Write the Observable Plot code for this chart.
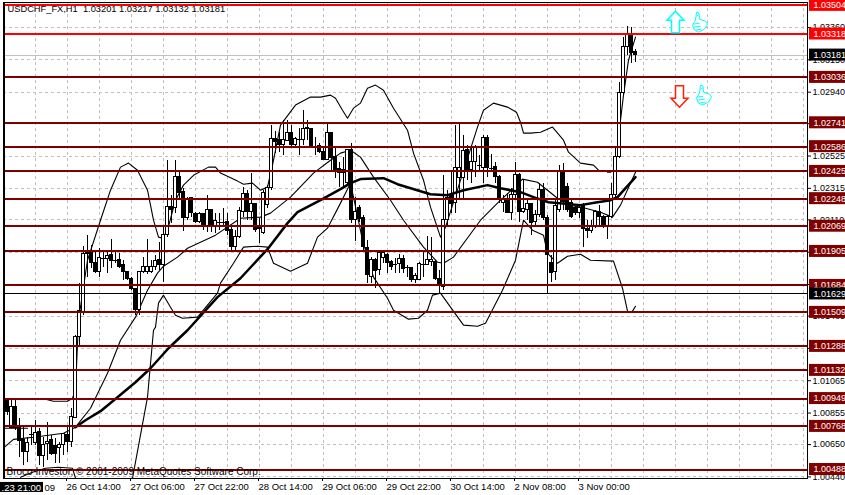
<!DOCTYPE html>
<html><head><meta charset="utf-8">
<style>html,body{margin:0;padding:0;background:#fff;overflow:hidden}</style>
<script src="https://cdn.jsdelivr.net/npm/d3@7"></script>
<script src="https://cdn.jsdelivr.net/npm/@observablehq/plot@0.6"></script>
</head><body><div id="chart"></div>
<script>
// Candles: bar 1 to bar 158, prices in points (1e-5)
const opens=[100938,100756,100893,100756,100678,100600,100717,100659,100730,100574,100652,100678,100639,100626,100646,100711,100665,100821,101348,101510,101900,101893,101828,101770,101861,101855,101880,101848,101848,101816,101770,101725,101660,101523,101770,101770,101770,101803,101848,101816,102011,102193,102186,102388,102290,102121,102251,102147,102095,102147,102063,102173,102063,102095,102095,102095,102043,101933,101998,102160,102277,102160,102212,102063,102024,102206,102316,102635,102628,102596,102622,102674,102596,102635,102628,102706,102700,102589,102589,102550,102498,102674,102518,102440,102414,102349,102563,102108,102186,102121,101926,101738,101848,101783,101861,101880,101835,101822,101822,101855,101803,101796,101718,101718,101822,101816,101835,101835,101725,101673,102108,102270,102219,102381,102381,102563,102433,102485,102466,102446,102641,102446,102453,102388,102219,102245,102154,102270,102400,102160,102173,102212,102095,102141,102303,102121,101828,101770,102173,102420,102323,102219,102186,102154,102206,102050,102037,102063,102160,102128,102063,102128,102270,102518,102934,103233,103317,103201];
const highs=[100951,100951,100951,100821,100763,100698,100763,100808,100756,100698,100795,100711,100691,100665,100724,100775,100886,101361,101699,101939,102011,101945,101900,101926,101900,101913,101985,101900,101893,101848,101770,101738,101666,101770,101868,101985,101848,101880,101965,102063,102498,102270,102498,102420,102316,102258,102258,102160,102160,102154,102270,102173,102154,102154,102186,102154,102076,102043,102193,102323,102303,102414,102219,102121,102303,102336,102726,102687,102680,102758,102758,102726,102648,102706,102823,102758,102706,102648,102609,102576,102739,102674,102576,102485,102518,102563,102609,102258,102206,102141,101978,101868,101861,101893,101913,101893,101848,101861,101887,101880,101816,101803,101764,101835,101900,102004,101998,101848,101783,102400,102303,102420,102726,102739,102661,102596,102576,102596,102531,102661,102661,102537,102485,102400,102270,102283,102316,102485,102414,102368,102238,102219,102173,102349,102349,102141,101880,102238,102466,102479,102349,102238,102199,102206,102219,102108,102108,102173,102206,102141,102141,102349,102583,103005,103298,103369,103363,103217];
const lows=[100841,100756,100743,100568,100516,100535,100646,100646,100516,100503,100548,100580,100529,100529,100580,100600,100633,100821,101283,101490,101738,101796,101764,101738,101803,101764,101796,101828,101796,101718,101718,101653,101490,101490,101764,101757,101764,101783,101783,101705,101998,102089,102154,102251,102037,102108,102128,102089,102089,102043,102030,102030,102024,102043,102063,102011,101913,101913,101991,102128,102108,102108,102030,101959,102017,102186,102303,102544,102550,102531,102622,102583,102576,102531,102596,102628,102589,102531,102544,102498,102498,102433,102381,102323,102316,102336,102089,101972,102095,101913,101699,101699,101666,101751,101828,101764,101783,101764,101764,101764,101738,101705,101699,101718,101738,101816,101809,101718,101634,101653,102076,102154,102154,102251,102251,102368,102349,102388,102433,102349,102388,102433,102349,102219,102160,102154,102108,102238,102095,102154,102108,102011,102063,102128,102108,101634,101705,101718,102160,102173,102160,102121,102141,102121,101933,101991,102024,102056,102063,102056,101985,102121,102258,102511,102921,103181,103129,103132];
const closes=[100860,100893,100756,100672,100600,100659,100717,100724,100574,100646,100665,100587,100587,100646,100717,100665,100828,101348,101517,101887,101887,101828,101770,101861,101861,101874,101842,101848,101803,101770,101725,101660,101523,101770,101803,101803,101803,101842,101816,102011,102193,102173,102388,102283,102121,102238,102154,102095,102147,102063,102173,102076,102102,102095,102095,102037,101933,101998,102167,102277,102160,102212,102043,102050,102283,102316,102635,102615,102596,102628,102674,102596,102635,102635,102700,102700,102589,102589,102550,102498,102674,102511,102433,102414,102433,102563,102108,102160,102115,101933,101751,101848,101777,101893,101893,101828,101803,101822,101855,101790,101803,101718,101744,101822,101822,101848,101848,101725,101686,102108,102251,102212,102446,102446,102557,102433,102485,102576,102466,102641,102446,102446,102388,102238,102238,102154,102270,102400,102160,102180,102212,102089,102141,102303,102121,101880,101764,102199,102420,102225,102173,102128,102154,102186,102050,102037,102063,102160,102128,102063,102128,102270,102518,102934,103233,103317,103194,103181];

// Thick moving average: bar position / points
const maBars=[18,20.5,24.25,28.5,33,36.75,41.25,46,53.5,59.25,66,71,73.5,79.25,84.25,86.75,89.25,95,98.5,106.75,111,115,121,124.25,129.25,132.5,136.25,144.25,148.5,151.75,153.5,158];
const maVals=[100763,100808,100867,100958,101055,101146,101276,101393,101608,101731,101920,102089,102160,102238,102310,102349,102375,102381,102342,102277,102270,102303,102336,102316,102290,102258,102225,102206,102225,102238,102258,102388];

// Bollinger middle
const midBars=[0.25,2.5,7.5,15,18,21.75,26,29.25,33,36,38.5,40,43.5,46,53,59.25,64.25,66.75,71.75,77.5,81.75,84.25,86.75,89.25,92.5,96.75,100,105,108.5,110,112.5,119.25,123.75,127.5,129.75,133.5,136,138.5,141.75,145.5,149.25,152.25,154.25,158];
const midVals=[100633,100684,100698,100724,100763,100886,101114,101328,101478,101653,101764,101809,101868,101926,102011,102121,102128,102154,102258,102414,102498,102544,102563,102518,102388,102238,102108,101933,101835,101828,101868,102108,102225,102316,102375,102355,102303,102251,102206,102186,102160,102128,102206,102420];

// Bollinger upper (NaN = gap in the drawn line)
const upBars=[0,6,6,10.5,12.5,16,17.25,18,18.75,21,24.25,26.75,29.25,31.25,33.5,36,37.5,38.75,39.75,41,43,45,47.5,51.25,53,54.25,58.5,60,62.25,64.25,66,67.25,69.25,73,76.75,79.25,81.75,83,84.75,86,87.5,89.25,91,93,95,97.5,101,102.5,105,106.75,109.25,110.5,118.5,120,122.5,126,128.25,129.25,130,131.75,134.25,137.25,140,141.25,144.25,147.5,148.75,150,151,151.75,152.5,153.5,154.25,155,156.25,158];
const upVals=[100756,100756,NaN,100945,100932,100932,100951,101003,101458,101848,102108,102303,102453,102479,102433,102303,102108,101998,101991,102043,102238,102336,102400,102453,102453,102414,102362,102342,102349,102303,102323,102466,102726,102856,102908,102908,102921,102901,102823,102771,102836,102869,102966,102986,102953,102836,102693,102544,102368,102193,101998,102063,102713,102823,102869,102843,102810,102745,102674,102674,102680,102713,102628,102550,102479,102466,102433,NaN,102420,102420,NaN,102563,102758,102921,103148,103298];

// Bollinger lower
const loBars=[4.25,7.25,10.5,13.75,17.25,18,18,32.25,36,37.5,38,38.75,40,41.75,43,44.75,48.5,53.5,54.25,57.5,60,63.5,66,67.5,71.75,76,78.5,81,84.25,86.75,87.5,89.75,92.5,96,97.5,101.25,103.75,106,107.25,109.25,111.75,115,118.5,120.5,124.75,128,130,132.25,135,136,138.5,141,144.25,146.75,152.5,154.75,156,156.5,157.25,158];
const loVals=[100438,100470,100496,100503,100496,100431,NaN,100431,100958,101393,101413,101569,101621,101543,101490,101471,101478,101634,101699,101828,101933,101939,101933,101828,101777,101828,101998,102056,102219,102349,102258,101978,101738,101601,101523,101465,101471,101523,101621,101634,101543,101426,101419,101439,101653,101848,102108,102043,102011,101893,101828,101874,101887,101848,101842,101666,101517,NaN,101517,101549];

// Horizontal levels and their tags
const redLevels=[1.03504,1.03318];
const darkLevels=[1.03036,1.02741,1.02586,1.02425,1.02248,1.02069,1.01905,1.01684,1.01509,1.01288,1.01132,1.00949,1.00768,1.00488];
const blackLevels=[1.01629];
const bidLevels=[1.03181];

// Axis ticks
const priceTicks=[1.0336,1.0315,1.0294,1.02735,1.02525,1.02315,1.0211,1.019,1.0169,1.01485,1.01275,1.01065,1.00855,1.0065,1.0044];
const gridBars=d3.range(0,201,8);
const timeBars=[16,32,48,64,80,96,112,128,144];
const timeLabels=["26 Oct 14:00","27 Oct 06:00","27 Oct 22:00","28 Oct 14:00","29 Oct 06:00","29 Oct 22:00","30 Oct 14:00","2 Nov 08:00","3 Nov 00:00"];

const titleText="USDCHF_FX,H1  1.03201 1.03217 1.03132 1.03181";
const copyrightText="Broco Investor, © 2001-2009 MetaQuotes Software Corp.";

const bars=opens.map((o,k)=>({i:k+1,o:o/1e5,h:highs[k]/1e5,l:lows[k]/1e5,c:closes[k]/1e5}));
const series=(xs,ys)=>xs.map((x,k)=>({x,y:ys[k]/1e5}));
const thin=(d)=>Plot.line(d,{x:"x",y:"y",stroke:"#000",strokeWidth:1.1,clip:true});

const poly=(pts)=>(ctx)=>{pts.forEach((p,k)=>k?ctx.lineTo(p[0],p[1]):ctx.moveTo(p[0],p[1]));ctx.closePath();};
const upSym={draw:poly([[0,-11],[8.5,-2],[4,-2],[4,10.5],[-4,10.5],[-4,-2],[-8.5,-2]])};
const downSym={draw:poly([[0,11],[8.5,2],[4,2],[4,-10.5],[-4,-10.5],[-4,2],[-8.5,2]])};
const thumbSym={draw(ctx){
  poly([[-3,-10],[-0.5,-9],[0,-3],[6,-1],[8,2],[5,7],[-1,10],[-5,8],[-7,3],[-4,-2]])(ctx);
  [[-6,2,0,1],[-5.5,5,1,4],[-4,8,2,7],[-3,-6,-1,-7]].forEach(s=>{ctx.moveTo(s[0],s[1]);ctx.lineTo(s[2],s[3]);});
}};

const tagH=0.00039;
const tag=(levels,fill)=>[
  Plot.rect(levels,{x1:()=>201.5,x2:()=>212,y1:d=>d-tagH,y2:d=>d+tagH,fill}),
  Plot.text(levels,{x:()=>202.5,y:d=>d,text:d=>d.toFixed(5),fill:"#fff",textAnchor:"start",fontSize:9,fontFamily:"Liberation Sans"})
];
const font={fontFamily:"Liberation Sans"};
const crisp={shapeRendering:"crispEdges"};

const chart=Plot.plot({
  width:845,height:495,marginTop:2,marginBottom:17,marginLeft:3,marginRight:38,
  style:{background:"#fff",fontFamily:"Liberation Sans",fontSize:"10px",color:"#000"},
  x:{type:"linear",domain:[0,201],axis:null},
  y:{type:"linear",domain:[1.004296,1.035227],axis:null},
  marks:[
    Plot.ruleX(gridBars,{stroke:"#c0c0c0",strokeDasharray:"3,3",...crisp}),
    Plot.ruleY(priceTicks,{stroke:"#c0c0c0",strokeDasharray:"3,3",...crisp}),
    Plot.ruleY(bidLevels,{stroke:"#c0c0c0",...crisp}),
    thin(series(midBars,midVals)),
    thin(series(upBars,upVals)),
    thin(series(loBars,loVals)),
    Plot.ruleX(bars,{x:"i",y1:"l",y2:"h",stroke:"#000",...crisp}),
    Plot.rect(bars.filter(d=>d.c!==d.o),{x1:d=>d.i-0.3,x2:d=>d.i+0.3,y1:"o",y2:"c",fill:d=>d.c>d.o?"#fff":"#000",stroke:"#000",...crisp}),
    Plot.ruleY(bars.filter(d=>d.c===d.o),{y:"c",x1:d=>d.i-0.5,x2:d=>d.i+0.5,stroke:"#000",...crisp}),
    Plot.line(series(maBars,maVals),{x:"x",y:"y",stroke:"#000",strokeWidth:2.5}),
    Plot.ruleY(redLevels,{stroke:"#ff0000",strokeWidth:2,...crisp}),
    Plot.ruleY(darkLevels,{stroke:"#800000",strokeWidth:2,...crisp}),
    Plot.ruleY(blackLevels,{stroke:"#000",...crisp}),
    Plot.frame({stroke:"#000",...crisp}),
    Plot.ruleX([0],{stroke:"#000",strokeWidth:2,...crisp}),
    Plot.axisY(priceTicks,{anchor:"right",tickSize:3,tickPadding:2,tickFormat:d=>d.toFixed(5),label:null,fill:"#000",stroke:"#000",fontSize:9,...font}),
    Plot.axisX(timeBars,{anchor:"bottom",tickSize:3,tickPadding:2,textAnchor:"start",dx:-1,tickFormat:d=>timeLabels[timeBars.indexOf(d)],label:null,fill:"#000",stroke:"#000",fontSize:9.5,...font}),
    ...tag(redLevels,"#ff0000"),
    ...tag(darkLevels,"#800000"),
    ...tag(bidLevels,"#000"),
    ...tag(blackLevels,"#000"),
    Plot.text([titleText],{frameAnchor:"top-left",dx:4,dy:3,fill:"#000",fontSize:9.3,...font,lineAnchor:"top"}),
    Plot.text([copyrightText],{frameAnchor:"bottom-left",dx:3,dy:-4,fill:"#000",fontSize:10,...font}),
    Plot.rect([0],{x1:()=>-0.75,x2:()=>10,y1:()=>1.00404,y2:()=>1.00339,fill:"#000"}),
    Plot.text([".23 21:00"],{x:()=>-0.5,y:()=>1.00370,fill:"#fff",textAnchor:"start",fontSize:9.5,...font}),
    Plot.text(["09"],{x:()=>10.25,y:()=>1.00370,fill:"#000",textAnchor:"start",fontSize:9.5,...font}),
    Plot.dot([0],{x:()=>168,y:()=>1.03395,symbol:upSym,stroke:"#00ffff",fill:"#fff",strokeWidth:1.5}),
    Plot.dot([0],{x:()=>174,y:()=>1.03395,symbol:thumbSym,stroke:"#00ffff",fill:"#fff",strokeWidth:1}),
    Plot.dot([0],{x:()=>169,y:()=>1.02914,symbol:downSym,stroke:"#ff2000",fill:"#fff",strokeWidth:1.5}),
    Plot.dot([0],{x:()=>175,y:()=>1.02921,symbol:thumbSym,stroke:"#00ffff",fill:"#fff",strokeWidth:1})
  ]
});
document.getElementById("chart").appendChild(chart);
</script></body></html>
